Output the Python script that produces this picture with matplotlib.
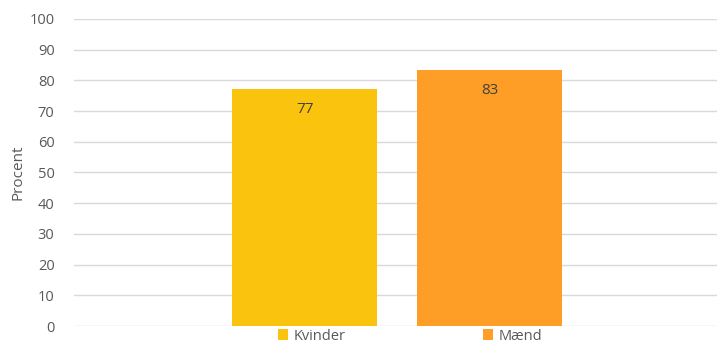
import numpy as np
import matplotlib
matplotlib.use("Agg")
import matplotlib.pyplot as plt
import matplotlib.patches as mpatches

# Share answering, by gender (percent)
series = ["Kvinder", "Mænd"]
values = [77.2, 83.4]
colors = ["#FAC30E", "#FF9E27"]
yticks = list(range(0, 101, 10))

plt.rcParams["font.family"] = ["Open Sans", "DejaVu Sans"]
TEXT = "#595959"

fig = plt.figure(figsize=(7.18, 3.45), dpi=100)
ax = fig.add_axes([0.103, 0.055, 0.896, 0.89])

# two series side by side within one category
width = 0.451
gap = 0.124
offsets = (np.arange(len(series)) - (len(series) - 1) / 2) * (width + gap) + 0.005
bars = ax.bar(offsets, values, width=width, color=colors, zorder=2)

for rect, v in zip(bars, values):
    ax.annotate(f"{v:.0f}", xy=(rect.get_x() + rect.get_width() / 2, v),
                xytext=(0, -13), textcoords="offset pixels",
                ha="center", va="top", fontsize=11, color="#404040", zorder=3)

ax.set_xlim(-1, 1)
ax.set_ylim(0, 100)
ax.set_yticks(yticks)
ax.set_xticks([])
ax.grid(axis="y", color="#D9D9D9", linewidth=1, zorder=0)
ax.tick_params(axis="y", length=0, pad=14, labelsize=10.5, labelcolor=TEXT)
for spine in ax.spines.values():
    spine.set_visible(False)
ax.set_ylabel("Procent", fontsize=11, color=TEXT, labelpad=3)

handles = [mpatches.Patch(facecolor=c, edgecolor="none", label=s)
           for s, c in zip(series, colors)]
fig.legend(handles=handles, loc="center", bbox_to_anchor=(0.571, 0.026),
           ncol=2, frameon=False, fontsize=10.5, labelcolor=TEXT,
           handlelength=0.7, handleheight=0.7, handletextpad=0.4,
           columnspacing=9.4, borderpad=0.1)

fig.savefig("out.png", dpi=100)
